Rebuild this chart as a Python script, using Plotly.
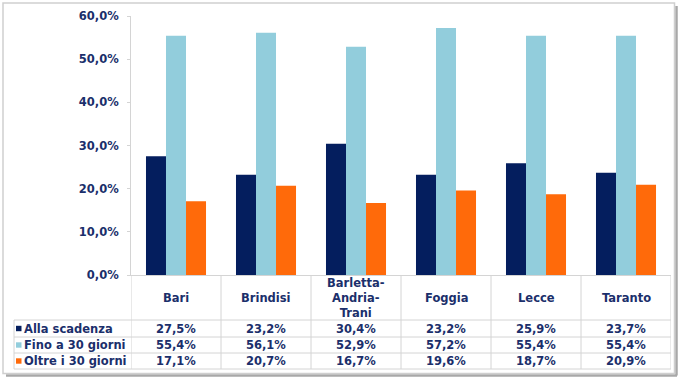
import plotly.graph_objects as go

categories = ["Bari", "Brindisi", "Barletta-<br>Andria-<br>Trani", "Foggia", "Lecce", "Taranto"]
series_names = ["Alla scadenza", "Fino a 30 giorni", "Oltre i 30 giorni"]
alla_scadenza = [27.5, 23.2, 30.4, 23.2, 25.9, 23.7]
fino_30 = [55.4, 56.1, 52.9, 57.2, 55.4, 55.4]
oltre_30 = [17.1, 20.7, 16.7, 19.6, 18.7, 20.9]
y_ticks = [0, 10, 20, 30, 40, 50, 60]

colors = ["#041E5E", "#92CDDC", "#FF6A0A"]
text_color = "#1B2F6B"
line_color = "#D4D4D4"
FONT = "DejaVu Sans"
FS = 11.5

W, H = 678, 380
L, R, T, B = 131, 7, 16, 105
PW, PH = W - L - R, H - T - B


def px(x):
    return (x - L) / PW


def py(y):
    return (H - B - y) / PH


def fmt(v):
    return ("%.1f%%" % v).replace(".", ",")


series = [alla_scadenza, fino_30, oltre_30]
xs = list(range(len(categories)))

fig = go.Figure()
for name, vals, col in zip(series_names, series, colors):
    fig.add_trace(go.Bar(x=xs, y=vals, name=name, marker=dict(color=col, line=dict(width=0)),
                         hoverinfo="skip"))

shapes = []
annotations = []
tfont = dict(family=FONT, size=FS, color=text_color, weight="bold")

# table horizontal lines
row_lines = [320, 337, 353, 369]
for yy in row_lines:
    shapes.append(dict(type="line", xref="paper", yref="paper", x0=px(14), x1=1, y0=py(yy), y1=py(yy),
                       line=dict(color=line_color, width=1)))
# table vertical lines
for k in range(len(categories) + 1):
    shapes.append(dict(type="line", xref="x", yref="paper", x0=k - 0.5, x1=k - 0.5, y0=py(275), y1=py(369),
                       line=dict(color=line_color, width=1)))
shapes.append(dict(type="line", xref="paper", yref="paper", x0=px(14), x1=px(14), y0=py(320), y1=py(369),
                   line=dict(color=line_color, width=1)))

# category labels
for i, c in enumerate(categories):
    annotations.append(dict(x=i, y=py(297.5), xref="x", yref="paper", text=c, showarrow=False,
                            font=tfont, yanchor="middle", xanchor="center"))

# data rows
row_centers = [328.5, 345, 361]
for r, (name, vals, col) in enumerate(zip(series_names, series, colors)):
    yc = row_centers[r]
    shapes.append(dict(type="rect", xref="paper", yref="paper", x0=px(16), x1=px(21.5),
                       y0=py(yc - 2.7), y1=py(yc + 2.7), fillcolor=col, line=dict(width=0)))
    annotations.append(dict(x=px(22), y=py(yc), xref="paper", yref="paper", text=name, showarrow=False,
                            font=tfont, xanchor="left", yanchor="middle"))
    for i, v in enumerate(vals):
        annotations.append(dict(x=i, y=py(yc), xref="x", yref="paper", text=fmt(v), showarrow=False,
                                font=tfont, xanchor="center", yanchor="middle"))

# outer frame with shadow
shapes.append(dict(type="line", xref="paper", yref="paper", x0=px(6), x1=px(677), y0=py(375.5), y1=py(375.5),
                   line=dict(color="#A8A8A8", width=2.5)))
shapes.append(dict(type="line", xref="paper", yref="paper", x0=px(676.5), x1=px(676.5), y0=py(6), y1=py(375.5),
                   line=dict(color="#A8A8A8", width=2.5)))
shapes.append(dict(type="rect", xref="paper", yref="paper", x0=px(3), x1=px(674.5), y0=py(3), y1=py(373.5),
                   line=dict(color="#CFCFCF", width=1.5)))

fig.update_layout(
    width=W, height=H,
    margin=dict(l=L, r=R, t=T, b=B),
    paper_bgcolor="white", plot_bgcolor="white",
    barmode="group", bargap=0.333, bargroupgap=0,
    showlegend=False,
    font=dict(family=FONT, size=FS, color=text_color, weight="bold"),
    xaxis=dict(range=[-0.5, len(categories) - 0.5], showticklabels=False, showgrid=False,
               showline=True, linecolor=line_color, linewidth=1, zeroline=False, ticks=""),
    yaxis=dict(range=[0, 60], tickvals=y_ticks, ticktext=[fmt(v) for v in y_ticks],
               showgrid=False, zeroline=False, showline=True, linecolor=line_color, linewidth=1,
               ticks="outside", ticklen=3, tickcolor=line_color, ticklabelstandoff=6,
               tickfont=tfont),
    shapes=shapes, annotations=annotations,
)

fig.write_html("out.html", config={"displayModeBar": False},
               post_script="document.body.style.margin='0px';")
